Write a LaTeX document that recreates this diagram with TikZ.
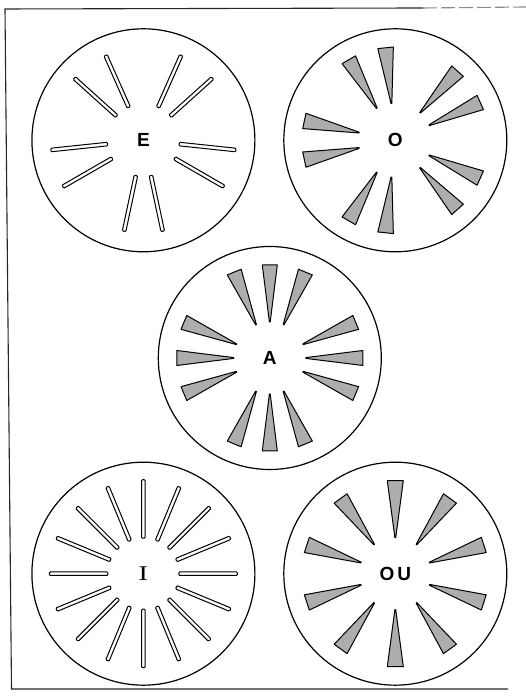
\documentclass[tikz,border=0pt]{standalone}
\usepackage{fontspec}
\newfontfamily\labfont{Liberation Sans}
\begin{document}
\begin{tikzpicture}[x=1pt,y=1pt,
  disk/.style={circle,draw,line width=1.2pt,minimum size=223pt,inner sep=0pt,
    font=\labfont\bfseries\fontsize{19}{20}\selectfont},
  slit/.style={draw,line width=1pt,rounded corners=1pt,fill=white},
  wedge/.style={draw,line width=1pt,line join=round,fill=black!32},
  frame/.style={line width=1.1pt,black!85}]
\useasboundingbox (0,0) rectangle (526,700);
% frame
\coordinate (tl) at (5,691);
\coordinate (bl) at (11.5,11);
\coordinate (br) at (508,11);
\coordinate (tm) at (423,692);
\coordinate (tr) at (526,693);
\draw[frame] (tm) -- (tl) -- (bl) -- (br);
\draw[frame,black!45,dash pattern=on 14pt off 4pt] (tm) -- (tr);
% disks
\node[disk] (E) at (143.4,559.7) {E};
\node[disk] (O) at (395.3,559.7) {O};
\node[disk] (A) at (269.8,342) {A};
\node[disk,font=\bfseries\fontsize{20}{20}\selectfont] (I) at (143.4,126.3) {I};
\node[disk] (OU) at (395.3,126.3) {O\kern3pt U};
% E slits
\begin{scope}[shift={(E.center)}]
  \foreach \a in {-102,-78,-30,-6,42,66,114,138,186,210}
    \draw[slit,rotate=\a] (36,-1.8) rectangle (93,1.8);
\end{scope}
% O wedges
\begin{scope}[shift={(O.center)}]
  \foreach \a in {168,192,96,120,24,48,-24,-48,-96,-120}
    \draw[wedge,rotate=\a] (37,-0.4) -- (93,-7.8) -- (93,7.8) -- (37,0.4) -- cycle;
\end{scope}
% A wedges
\begin{scope}[shift={(A.center)}]
  \foreach \a in {0,22.5,67.5,90,112.5,157.5,180,202.5,247.5,270,292.5,337.5}
    \draw[wedge,rotate=\a] (36,-0.4) -- (93,-7.5) -- (93,7.5) -- (36,0.4) -- cycle;
\end{scope}
% I slits
\begin{scope}[shift={(I.center)}]
  \foreach \a in {0,22.5,...,337.5}
    \draw[slit,rotate=\a] (35.5,-1.8) rectangle (94,1.8);
\end{scope}
% OU wedges
\begin{scope}[shift={(OU.center)}]
  \foreach \a in {18,54,90,126,162,198,234,270,306,342}
    \draw[wedge,rotate=\a] (36,-0.4) -- (93,-8) -- (93,8) -- (36,0.4) -- cycle;
\end{scope}
\end{tikzpicture}
\end{document}
